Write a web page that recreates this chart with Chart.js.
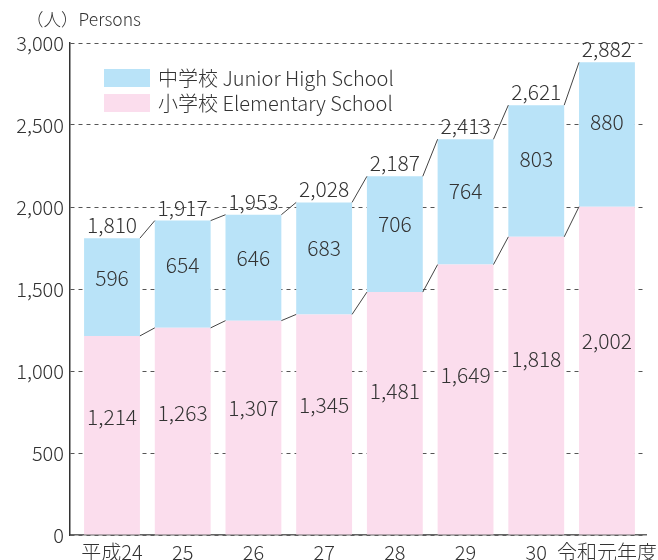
<!DOCTYPE html>
<html>
<head>
<meta charset="utf-8">
<title>児童生徒数の推移</title>
<script src="https://cdn.jsdelivr.net/npm/chart.js"></script>
<style>
  body { margin: 0; background: #fff; }
</style>
</head>
<body>

<canvas id="myChart" width="658" height="560"></canvas>

<script>
  const categories = ['平成24', '25', '26', '27', '28', '29', '30', '令和元年度'];
  const elementary = [1214, 1263, 1307, 1345, 1481, 1649, 1818, 2002];
  const juniorHigh = [596, 654, 646, 683, 706, 764, 803, 880];
  const totals = [1810, 1917, 1953, 2028, 2187, 2413, 2621, 2882];
  const yTicks = [0, 500, 1000, 1500, 2000, 2500, 3000];

  const FONT = "'Noto Sans CJK JP', 'Noto Sans', sans-serif";
  const TEXT = '#333';
  const fmt = n => n.toLocaleString('en-US');

  // Werte, Summen, Verbindungslinien, Legende und Achsentitel
  const decorPlugin = {
    id: 'decor',
    afterDatasetsDraw(chart) {
      const c = chart.ctx;
      c.save();
      // Verbindungslinien zwischen den Balken
      c.strokeStyle = '#444';
      c.lineWidth = 1;
      chart.data.datasets.forEach((ds, d) => {
        const bars = chart.getDatasetMeta(d).data;
        for (let i = 0; i < bars.length - 1; i++) {
          const a = bars[i], b = bars[i + 1];
          c.beginPath();
          c.moveTo(a.x + a.width / 2, a.y);
          c.lineTo(b.x - b.width / 2, b.y);
          c.stroke();
        }
      });
      c.fillStyle = TEXT;
      c.font = '300 21px ' + FONT;
      c.textAlign = 'center';
      c.textBaseline = 'middle';
      chart.data.datasets.forEach((ds, d) => {
        chart.getDatasetMeta(d).data.forEach((bar, i) => {
          c.fillText(fmt(ds.data[i].y), bar.x, bar.y + 0.41 * (bar.base - bar.y));
        });
      });
      const top = chart.getDatasetMeta(chart.data.datasets.length - 1).data;
      top.forEach((bar, i) => {
        c.fillText(fmt(totals[i]), bar.x, bar.y - 13);
      });
      c.restore();
    },
    afterDraw(chart) {
      const c = chart.ctx;
      c.save();
      c.fillStyle = TEXT;
      c.textBaseline = 'middle';
      c.textAlign = 'left';
      c.font = '300 17.5px ' + FONT;
      c.fillText('（人）Persons', 26, 19);
      const items = [chart.data.datasets[1], chart.data.datasets[0]];
      c.font = '300 20px ' + FONT;
      items.forEach((ds, k) => {
        const y = 69 + k * 25;
        c.fillStyle = ds.backgroundColor;
        c.fillRect(104, y, 46, 18);
        c.fillStyle = TEXT;
        c.fillText(ds.label, 158, y + 9);
      });
      c.restore();
    }
  };

  const ctx = document.getElementById('myChart').getContext('2d');
  const myChart = new Chart(ctx, {
    type: 'bar',
    data: {
      datasets: [{
        label: '小学校 Elementary School',
        data: elementary.map((v, i) => ({ x: i, y: v })),
        backgroundColor: '#fbdded'
      }, {
        label: '中学校 Junior High School',
        data: juniorHigh.map((v, i) => ({ x: i, y: v })),
        backgroundColor: '#b9e3f8'
      }]
    },
    options: {
      responsive: false,
      animation: false,
      layout: { padding: { top: 43, right: 12, left: 0, bottom: 0 } },
      categoryPercentage: 1,
      barPercentage: 0.79,
      plugins: {
        legend: { display: false },
        tooltip: { enabled: false }
      },
      scales: {
        x: {
          type: 'linear',
          stacked: true,
          offset: false,
          min: -0.594,
          max: 7.552,
          afterBuildTicks: s => { s.ticks = categories.map((c, i) => ({ value: i })); },
          afterFit: s => { s.height = 25; },
          grid: { display: false },
          border: { color: '#666', width: 1.5 },
          ticks: {
            callback: v => categories[v],
            color: TEXT,
            font: { family: FONT, size: 20, weight: '300' },
            padding: -3,
            maxRotation: 0,
            autoSkip: false
          }
        },
        y: {
          stacked: true,
          min: 0,
          max: 3000,
          afterBuildTicks: s => { s.ticks = yTicks.map(v => ({ value: v })); },
          afterFit: s => { s.width = 70; },
          grid: { color: '#555', lineWidth: 1, drawTicks: false },
          border: { color: '#333', width: 1.5, dash: [4, 4] },
          ticks: {
            callback: v => fmt(v),
            color: TEXT,
            font: { family: FONT, size: 20, weight: '300' },
            padding: 6
          }
        }
      }
    },
    plugins: [decorPlugin]
  });
</script>

</body>
</html>
